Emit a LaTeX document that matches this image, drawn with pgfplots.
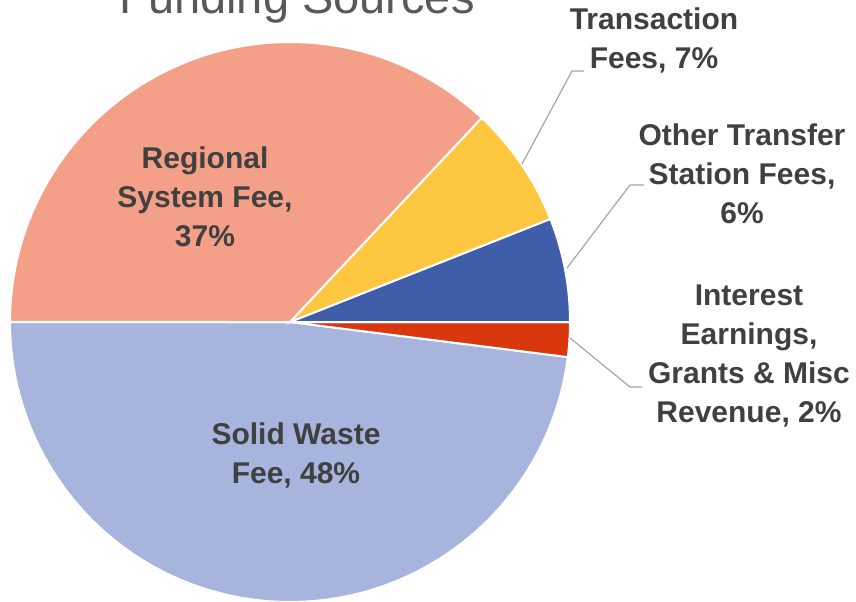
\documentclass[border=0pt]{standalone}
\usepackage{pgfplots}
\pgfplotsset{compat=1.18}
\usepackage{pgfplotstable}
\usepackage{fontspec}
\setmainfont{Liberation Sans}
\definecolor{cSW}{HTML}{A6B4DE}
\definecolor{cInt}{HTML}{D9380E}
\definecolor{cOth}{HTML}{3F5DA9}
\definecolor{cTra}{HTML}{FFC740}
\definecolor{cReg}{HTML}{F49F87}
\definecolor{cTxt}{HTML}{404040}
\definecolor{cTitle}{HTML}{595959}
\definecolor{cLine}{HTML}{A6A6A6}

\pgfplotstableread[col sep=comma]{
label,value
Solid Waste Fee,48
Interest Earnings Grants and Misc Revenue,2
Other Transfer Station Fees,6
Transaction Fees,7
Regional System Fee,37
}\piedata

\begin{document}
\begin{tikzpicture}
\def\aA{180}
\pgfplotstablegetelem{0}{value}\of\piedata\pgfmathsetmacro\aB{\aA+3.6*\pgfplotsretval}
\pgfplotstablegetelem{1}{value}\of\piedata\pgfmathsetmacro\aC{\aB+3.6*\pgfplotsretval}
\pgfplotstablegetelem{2}{value}\of\piedata\pgfmathsetmacro\aD{\aC+3.6*\pgfplotsretval}
\pgfplotstablegetelem{3}{value}\of\piedata\pgfmathsetmacro\aE{\aD+3.6*\pgfplotsretval}
\pgfplotstablegetelem{4}{value}\of\piedata\pgfmathsetmacro\aF{\aE+3.6*\pgfplotsretval}
\begin{axis}[
  at={(0pt,0pt)}, anchor=south west,
  scale only axis, x=0.5pt, y=0.5pt,
  xmin=0, xmax=856, ymin=0, ymax=601,
  hide axis, clip=false,
]
\pgfplotsset{slice/.style={draw=white, line width=1pt, mark=none, samples=120}}
\addplot[slice, fill=cSW, domain=\aA:\aB] ({290+280*cos(x)},{279+280*sin(x)}) -- (axis cs:290,279) -- cycle;
\addplot[slice, fill=cInt, domain=\aB:\aC] ({290+280*cos(x)},{279+280*sin(x)}) -- (axis cs:290,279) -- cycle;
\addplot[slice, fill=cOth, domain=\aC:\aD] ({290+280*cos(x)},{279+280*sin(x)}) -- (axis cs:290,279) -- cycle;
\addplot[slice, fill=cTra, domain=\aD:\aE] ({290+280*cos(x)},{279+280*sin(x)}) -- (axis cs:290,279) -- cycle;
\addplot[slice, fill=cReg, domain=\aE:\aF] ({290+280*cos(x)},{279+280*sin(x)}) -- (axis cs:290,279) -- cycle;

% leader lines
\addplot[draw=cLine, line width=0.6pt, mark=none] coordinates {(522,437) (572,530) (584,530)};
\addplot[draw=cLine, line width=0.6pt, mark=none] coordinates {(567,333) (630,416) (644,416)};
\addplot[draw=cLine, line width=0.6pt, mark=none] coordinates {(570,263) (630,214) (642,214)};

\tikzset{lbl/.style={align=center, text=cTxt, font=\fontsize{15}{19.5}\selectfont\bfseries}}
\node[lbl] at (axis cs:205,404) {Regional\\System Fee,\\37\%};
\node[lbl] at (axis cs:296,146) {Solid Waste\\Fee, 48\%};
\node[lbl] at (axis cs:654,561) {Transaction\\Fees, 7\%};
\node[lbl] at (axis cs:742,427) {Other Transfer\\Station Fees,\\6\%};
\node[lbl] at (axis cs:749,245) {Interest\\Earnings,\\Grants \& Misc\\Revenue, 2\%};
\node[anchor=base, text=cTitle, font=\fontsize{23.5}{28}\selectfont] at (axis cs:297,587) {Funding Sources};
\end{axis}
\pgfresetboundingbox
\path[use as bounding box] (0pt,0pt) rectangle (428pt,300.5pt);
\end{tikzpicture}
\end{document}
